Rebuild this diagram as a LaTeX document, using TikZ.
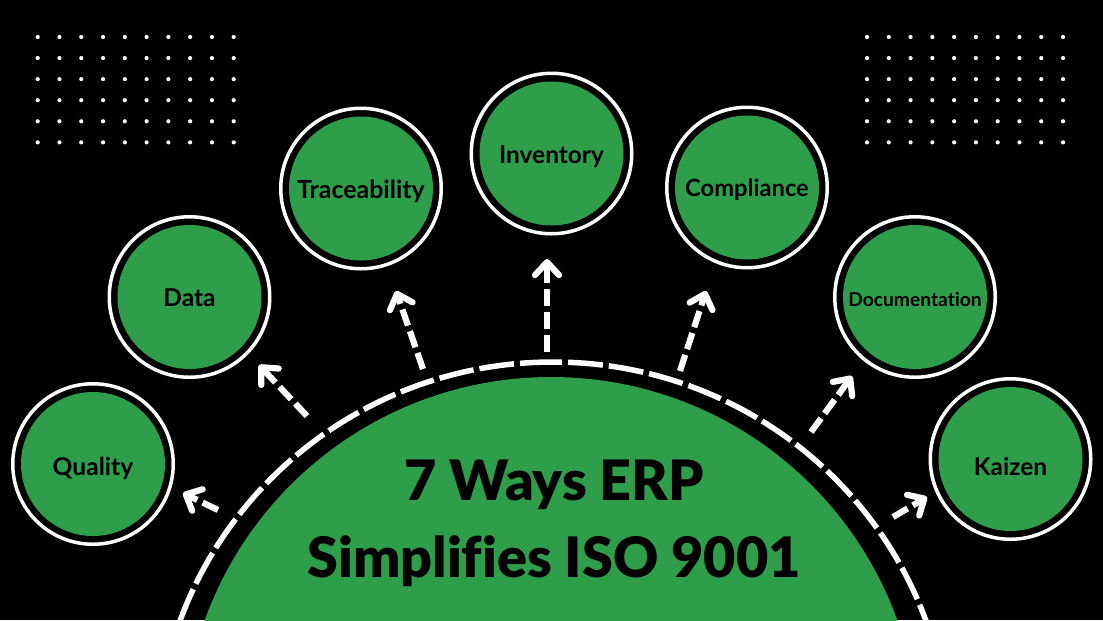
\documentclass[tikz,border=0pt]{standalone}
\usepackage{fontspec}
\setmainfont{Lato}[Ligatures=CommonOff]
\newfontfamily\titlefont{Lato Black}[Ligatures=CommonOff]
\usetikzlibrary{arrows.meta}
\definecolor{erpgreen}{HTML}{2E9E4A}
\tikzset{
  topic/.style={circle,fill=erpgreen,minimum size=1.44cm,inner sep=0pt,text=black},
  halo/.style={circle,draw=white,line width=.035cm,minimum size=1.605cm,inner sep=0pt},
  pointer/.style={draw=white,line width=.062cm,dash pattern=on .17cm off .06cm,-{Straight Barb[length=.13cm,width=.24cm,round]}},
  rim/.style={white,line width=.055cm},
}
\begin{document}
\begin{tikzpicture}
\clip (0,0) rectangle (11.03,-6.2);
\fill[black] (0,0) rectangle (11.03,-6.2);
% dots
\foreach \x in {0,...,9} \foreach \y in {0,...,5} {
  \fill[white] (.377+.2178*\x,-.37-.2107*\y) circle (.021);
  \fill[white] (8.67+.2178*\x,-.37-.2107*\y) circle (.021);
}
% half circle
\node[circle,fill=erpgreen,minimum size=7.36cm,inner sep=0pt] (hub) at (5.51,-7.45) {};
\draw[rim,dash pattern=on .35cm off .06cm,dash phase=.26cm] (5.53,-3.62) arc (90:0:3.967 and 3.93);
\draw[rim,dash pattern=on .35cm off .06cm,dash phase=.02cm] (5.53,-3.62) arc (90:180:3.967 and 3.93);
\node[font=\fontsize{15.85pt}{21.9pt}\selectfont\titlefont,align=center] (title) at (5.54,-5.235) {7 Ways ERP\\Simplifies ISO 9001};
% topics
\foreach \n/\x/\y/\s/\d/\t in {quality/.93/4.64/7/.11/Quality,data/1.895/2.97/7/.09/Data,trace/3.61/1.885/7.1/.095/Traceability,inventory/5.515/1.535/6.95/.095/Inventory,compliance/7.47/1.875/6.75/.09/Compliance,docs/9.15/2.97/5.47/.09/Documentation,kaizen/10.105/4.59/6.95/.16/Kaizen} {
  \node[halo] (\n-halo) at (\x,-\y) {};
  \node[topic,font=\fontsize{\s pt}{8pt}\selectfont\bfseries] (\n) at (\x,-\y) {\raisebox{-\d cm}[0pt][0pt]{\t}};
}
% arrows
\coordinate (q0) at (2.18,-5.1);
\coordinate (q1) at (1.83,-4.93);
\coordinate (d0) at (3.07,-4.16);
\coordinate (d1) at (2.59,-3.65);
\coordinate (t0) at (4.23,-3.69);
\coordinate (t1) at (3.96,-2.91);
\coordinate (i0) at (5.47,-3.52);
\coordinate (i1) at (5.47,-2.59);
\coordinate (c0) at (6.8,-3.71);
\coordinate (c1) at (7.06,-2.91);
\coordinate (e0) at (8.11,-4.32);
\coordinate (e1) at (8.52,-3.76);
\coordinate (k0) at (8.93,-5.17);
\coordinate (k1) at (9.27,-4.97);
\foreach \a/\b in {q0/q1,d0/d1,t0/t1,i0/i1,c0/c1,e0/e1,k0/k1}
  \draw[pointer] (\a) -- (\b);
\end{tikzpicture}
\end{document}
